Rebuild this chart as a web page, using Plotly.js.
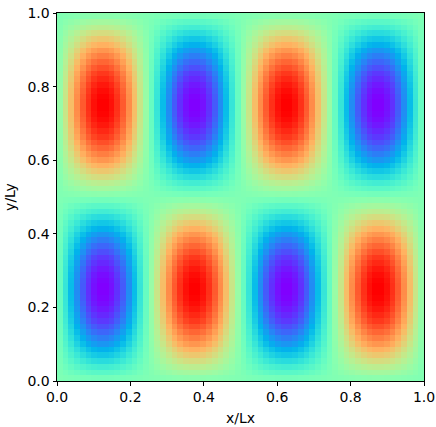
<!DOCTYPE html>
<html>
<head>
<meta charset="utf-8">
<script src="https://cdn.plot.ly/plotly-3.0.1.min.js"></script>
<style>html,body{margin:0;padding:0;background:#fff;}#chart{width:436px;height:427px;}</style>
</head>
<body>
<div id="chart"></div>
<script>
// Profile of the field across x (64 columns, left to right)
const xProfile = [
  0.10, 0.29, 0.47, 0.63, 0.77, 0.88, 0.96, 1.00, 1.00, 0.96, 0.88, 0.77, 0.63, 0.47, 0.29, 0.10,
 -0.10,-0.29,-0.47,-0.63,-0.77,-0.88,-0.96,-1.00,-1.00,-0.96,-0.88,-0.77,-0.63,-0.47,-0.29,-0.10,
  0.10, 0.29, 0.47, 0.63, 0.77, 0.88, 0.96, 1.00, 1.00, 0.96, 0.88, 0.77, 0.63, 0.47, 0.29, 0.10,
 -0.10,-0.29,-0.47,-0.63,-0.77,-0.88,-0.96,-1.00,-1.00,-0.96,-0.88,-0.77,-0.63,-0.47,-0.29,-0.10
];
// Profile of the field across y (64 rows, bottom to top)
const yProfile = [
 -0.05,-0.15,-0.24,-0.34,-0.43,-0.51,-0.60,-0.67,-0.74,-0.80,-0.86,-0.90,-0.94,-0.97,-0.99,-1.00,
 -1.00,-0.99,-0.97,-0.94,-0.90,-0.86,-0.80,-0.74,-0.67,-0.60,-0.51,-0.43,-0.34,-0.24,-0.15,-0.05,
  0.05, 0.15, 0.24, 0.34, 0.43, 0.51, 0.60, 0.67, 0.74, 0.80, 0.86, 0.90, 0.94, 0.97, 0.99, 1.00,
  1.00, 0.99, 0.97, 0.94, 0.90, 0.86, 0.80, 0.74, 0.67, 0.60, 0.51, 0.43, 0.34, 0.24, 0.15, 0.05
];
const tickVals = [0, 0.2, 0.4, 0.6, 0.8, 1.0];
const tickText = ["0.0", "0.2", "0.4", "0.6", "0.8", "1.0"];

// grid table built from the two profiles
const z = yProfile.map(yv => xProfile.map(xv => xv * yv));

// matplotlib "rainbow" colormap
const cs = [];
for (let i = 0; i <= 64; i++) {
  const t = i / 64;
  const r = Math.min(1, Math.abs(2 * t - 0.5));
  const g = Math.sin(Math.PI * t);
  const b = Math.max(0, Math.cos(Math.PI * t / 2));
  cs.push([t, `rgb(${Math.round(r*255)},${Math.round(g*255)},${Math.round(b*255)})`]);
}

const nx = xProfile.length, ny = yProfile.length;
const trace = {
  type: 'heatmap', z: z,
  x0: 0.5 / nx, dx: 1 / nx, y0: 0.5 / ny, dy: 1 / ny,
  colorscale: cs, zmin: -1, zmax: 1, showscale: false, zsmooth: false,
  hoverinfo: 'skip'
};
const axisCommon = {
  range: [0, 1], tickvals: tickVals, ticktext: tickText,
  ticks: 'outside', ticklen: 3.5, tickwidth: 1, tickcolor: '#000',
  showline: true, linecolor: '#000', linewidth: 1, mirror: true,
  showgrid: false, zeroline: false,
  tickfont: {family: 'DejaVu Sans', size: 14, color: '#000'}
};
const layout = {
  width: 436, height: 427,
  margin: {l: 57, r: 12, t: 13, b: 46},
  paper_bgcolor: '#fff', plot_bgcolor: '#fff',
  xaxis: Object.assign({}, axisCommon, {title: {text: 'x/Lx', font: {family: 'DejaVu Sans', size: 14, color: '#000'}, standoff: 8}}),
  yaxis: Object.assign({}, axisCommon, {title: {text: 'y/Ly', font: {family: 'DejaVu Sans', size: 14, color: '#000'}, standoff: 8}}),
  showlegend: false
};
Plotly.newPlot('chart', [trace], layout, {displayModeBar: false, staticPlot: true});
</script>
</body>
</html>
